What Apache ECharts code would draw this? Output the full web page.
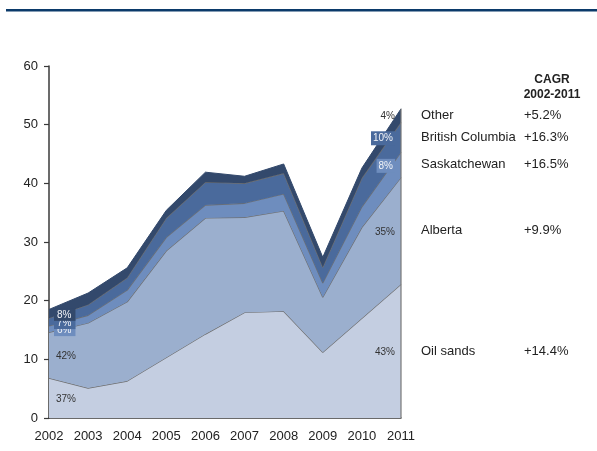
<!DOCTYPE html>
<html>
<head>
<meta charset="utf-8">
<script src="https://cdn.jsdelivr.net/npm/echarts@6/dist/echarts.min.js"></script>
<style>
  html, body { margin: 0; padding: 0; background: #fff; }
  #chart { width: 597px; height: 451px; }
</style>
</head>
<body>
<div id="chart"></div>
<script>
// Crude production by source, stacked (bottom to top)
var years = ['2002', '2003', '2004', '2005', '2006', '2007', '2008', '2009', '2010', '2011'];
var oilSands        = [6.8, 5.1, 6.3, 10.3, 14.3, 18.0, 18.2, 11.2, 17.0, 22.8];
var alberta         = [7.8, 11.1, 13.5, 18.2, 19.8, 16.2, 17.1, 9.4, 15.5, 18.2];
var saskatchewan    = [1.1, 1.3, 2.0, 2.3, 2.2, 2.4, 2.9, 2.4, 3.5, 4.3];
var britishColumbia = [1.3, 1.8, 2.1, 3.3, 3.9, 3.4, 3.5, 2.7, 4.9, 5.1];
var other           = [1.5, 2.0, 1.7, 1.3, 1.7, 1.2, 1.6, 1.7, 1.7, 2.3];

var seriesNames = ['Oil sands', 'Alberta', 'Saskatchewan', 'British Columbia', 'Other'];
var cagrLabels  = ['+14.4%', '+9.9%', '+16.5%', '+16.3%', '+5.2%'];
var cagrTitle   = ['CAGR', '2002-2011'];
var yTicks = { min: 0, max: 60, interval: 10 };

var layers = [oilSands, alberta, saskatchewan, britishColumbia, other];
var colors = ['#c4cee1', '#9bafce', '#6e8dbe', '#4a6a9c', '#33496c'];
var edge = '#6f6f6f';
var FONT = 'Liberation Sans, Arial, sans-serif';

var chart = echarts.init(document.getElementById('chart'), null, { renderer: 'canvas' });

var series = layers.map(function (vals, i) {
  var top = i === layers.length - 1;
  var s = {
    name: seriesNames[i],
    type: 'line',
    stack: 'total',
    data: vals,
    symbol: 'none',
    smooth: false,
    z: 2 + i,
    lineStyle: { color: top ? colors[i] : edge, width: top ? 1 : 1.2 },
    areaStyle: { color: colors[i], opacity: 1 },
    emphasis: { disabled: true },
    silent: true
  };
  return s;
});

chart.setOption({
  animation: false,
  backgroundColor: '#fff',
  grid: { left: 49, right: 196, top: 66, bottom: 33, containLabel: false },
  xAxis: {
    type: 'category',
    data: years,
    boundaryGap: false,
    axisLine: { lineStyle: { color: '#3a3a3a', width: 1.5 } },
    axisTick: { show: false },
    axisLabel: { color: '#222', fontSize: 13, fontFamily: FONT, margin: 12, interval: 0 },
    splitLine: { show: false }
  },
  yAxis: {
    type: 'value',
    min: yTicks.min, max: yTicks.max, interval: yTicks.interval,
    axisLine: { show: true, lineStyle: { color: '#3a3a3a', width: 1.5 } },
    axisTick: { show: true, length: 5, lineStyle: { color: '#3a3a3a', width: 1.2 } },
    axisLabel: { color: '#222', fontSize: 13, fontFamily: FONT, margin: 11 },
    splitLine: { show: false }
  },
  series: series
});

// Band shares and their mid-heights at the first and last year
function bandInfo(idx) {
  var total = 0, i;
  for (i = 0; i < layers.length; i++) total += layers[i][idx];
  var base = 0, out = [];
  for (i = 0; i < layers.length; i++) {
    var v = layers[i][idx];
    out.push({ mid: base + v / 2, pct: Math.round(v / total * 100) + '%', top: base + v });
    base += v;
  }
  return { bands: out, total: total };
}

var first = bandInfo(0);
var last = bandInfo(years.length - 1);
var graphics = [];

// Thin outline along the right edge of the stack
var pBottom = chart.convertToPixel({ gridIndex: 0 }, [years.length - 1, 0]);
var pTop = chart.convertToPixel({ gridIndex: 0 }, [years.length - 1, last.total]);
graphics.push({
  type: 'line', z: 50,
  shape: { x1: pBottom[0], y1: pBottom[1], x2: pTop[0], y2: pTop[1] },
  style: { stroke: '#777', lineWidth: 1.2 }
});

// Share labels at the left edge (boxed ones for the thin bands)
first.bands.forEach(function (b, i) {
  var p = chart.convertToPixel({ gridIndex: 0 }, [0, b.mid]);
  var boxed = i >= 2;
  graphics.push({
    type: 'text', z: 60 + i,
    style: {
      text: b.pct,
      x: boxed ? p[0] + 5 : p[0] + 7,
      y: p[1] + 1,
      fill: boxed ? '#f2f4f8' : '#333',
      font: '10px ' + FONT,
      textAlign: 'left',
      textVerticalAlign: 'middle',
      backgroundColor: boxed ? colors[i] : null,
      padding: boxed ? [1, 4, 1, 3] : 0
    }
  });
});

// Share labels at the right edge
last.bands.forEach(function (b, i) {
  var p = chart.convertToPixel({ gridIndex: 0 }, [years.length - 1, b.mid]);
  var boxed = i === 2 || i === 3;
  graphics.push({
    type: 'text', z: 60 + i,
    style: {
      text: b.pct,
      x: p[0] - 6,
      y: p[1] + 1,
      fill: boxed ? '#f2f4f8' : '#333',
      font: '10px ' + FONT,
      textAlign: 'right',
      textVerticalAlign: 'middle',
      backgroundColor: boxed ? colors[i] : null,
      padding: boxed ? [2, 2, 2, 2] : 0
    }
  });
  // Series name and growth rate beside each band
  graphics.push({
    type: 'text', z: 70,
    style: {
      text: seriesNames[i], x: 421, y: p[1], fill: '#222',
      font: '13px ' + FONT, textAlign: 'left', textVerticalAlign: 'middle'
    }
  });
  graphics.push({
    type: 'text', z: 70,
    style: {
      text: cagrLabels[i], x: 524, y: p[1], fill: '#222',
      font: '13px ' + FONT, textAlign: 'left', textVerticalAlign: 'middle'
    }
  });
});

// Column header for growth rates
cagrTitle.forEach(function (t, k) {
  graphics.push({
    type: 'text', z: 70,
    style: {
      text: t, x: 552, y: 80 + k * 15, fill: '#222',
      font: 'bold 12px ' + FONT, textAlign: 'center', textVerticalAlign: 'middle'
    }
  });
});

// Header rule
graphics.push({
  type: 'rect', z: 70,
  shape: { x: 6, y: 9, width: 591, height: 2.5 },
  style: { fill: '#0b3a6a' }
});

chart.setOption({ graphic: graphics });
</script>
</body>
</html>
